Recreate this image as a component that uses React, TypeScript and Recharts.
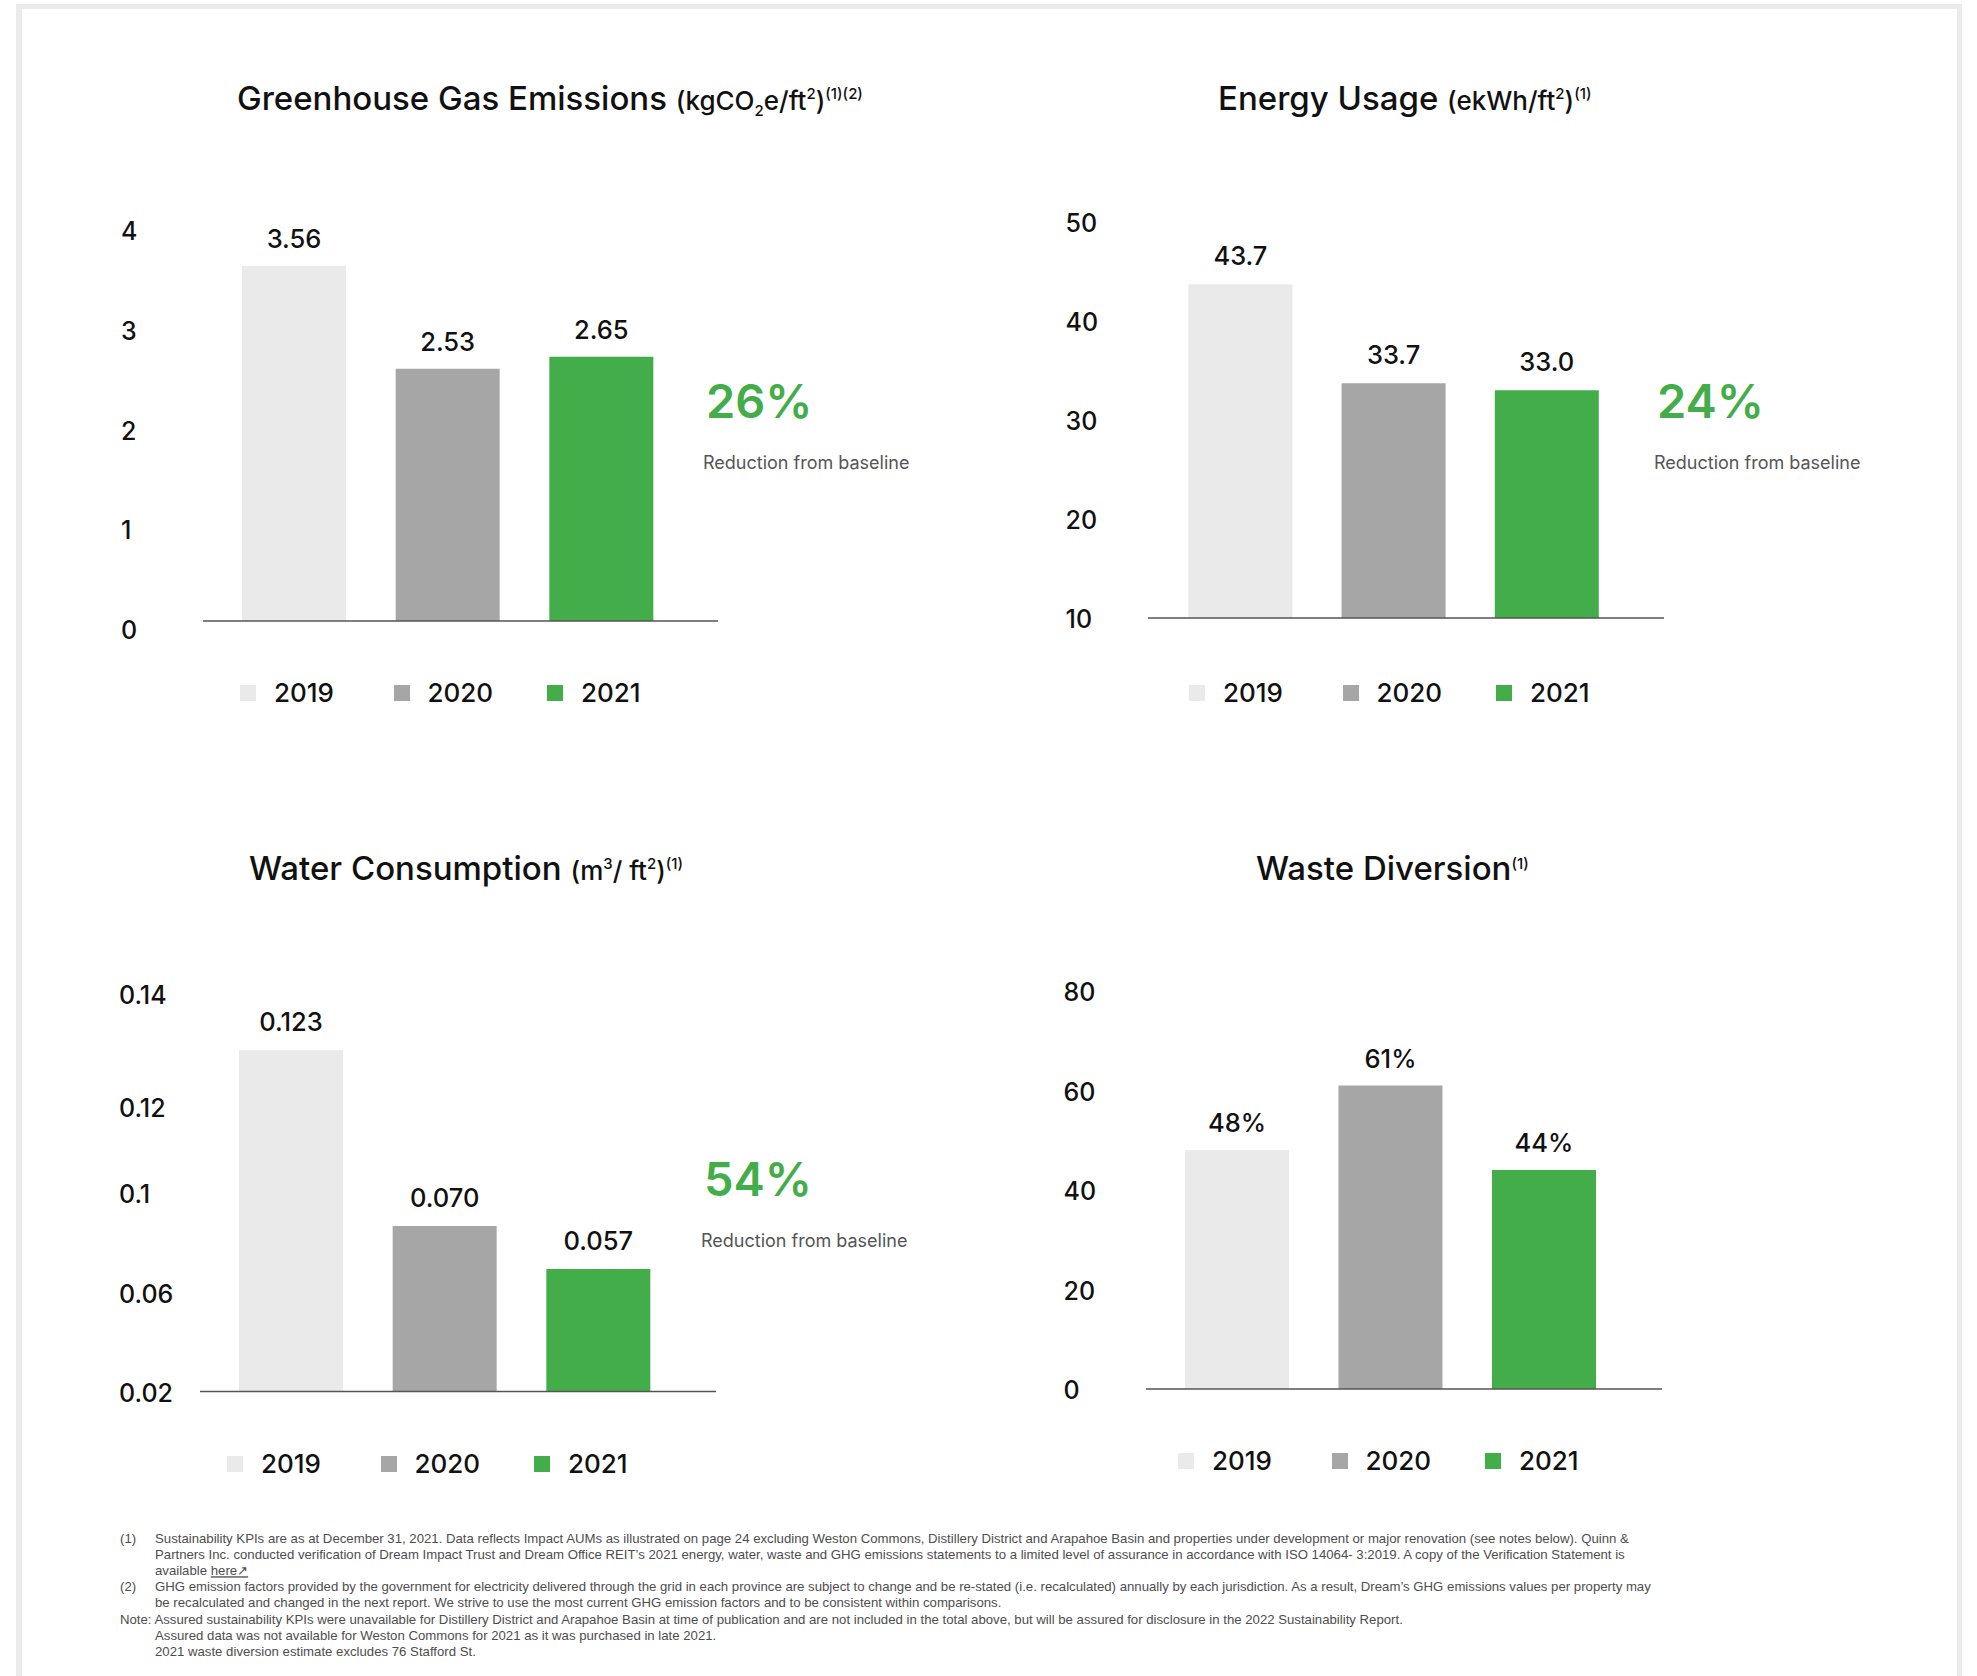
import React from 'react';
import { BarChart, Bar, XAxis, YAxis, Cell, LabelList, Legend } from 'recharts';

const FONT = 'Inter, Lato, "Open Sans", sans-serif';
const NOTE_FONT = '"Liberation Sans", Arial, sans-serif';

const years = ['2019', '2020', '2021'];
const yearColors = ['#eaeaea', '#a6a6a6', '#43ad4a'];

const ghgValues = [3.56, 2.53, 2.65];
const ghgTickValues = [0, 1, 2, 3, 4];
const ghgTickLabels = ['0', '1', '2', '3', '4'];

const energyValues = [43.7, 33.7, 33.0];
const energyTickValues = [10, 20, 30, 40, 50];
const energyTickLabels = ['10', '20', '30', '40', '50'];

const waterValues = [0.123, 0.07, 0.057];
const waterTickValues = [0.02, 0.0497, 0.0799, 0.1059, 0.14];
const waterTickLabels = ['0.02', '0.06', '0.1', '0.12', '0.14'];

const wasteValues = [48, 61, 44];
const wasteTickValues = [0, 20, 40, 60, 80];
const wasteTickLabels = ['0', '20', '40', '60', '80'];

const reductionValues = ['26%', '24%', '54%'];
const reductionText = 'Reduction from baseline';

type Box = { left: number; top: number; width: number; height: number };
type Plot = { left: number; right: number; top: number; bottom: number };

type PanelProps = {
  values: number[];
  domain: [number, number];
  tickValues: number[];
  tickLabels: string[];
  format: (v: number) => string;
  box: Box;
  plot: Plot;
  pad: { left: number; right: number };
  barSize: number;
  tickLeft: number;
  tickDy: number;
  labelOffset: number;
  legend: { x: number; cy: number; spacing: number };
};

function Panel(p: PanelProps) {
  const data = years.map((y, i) => ({ year: y, value: p.values[i] }));
  const yAxisWidth = 60;
  const xAxisHeight = 2;
  const margin = {
    left: p.plot.left - p.box.left - yAxisWidth,
    right: p.box.left + p.box.width - p.plot.right,
    top: p.plot.top - p.box.top,
    bottom: p.box.top + p.box.height - p.plot.bottom - xAxisHeight,
  };
  const tickX = p.tickLeft - p.box.left;
  const renderTick = (t: any) => {
    const idx = p.tickValues.indexOf(t.payload.value);
    return (
      <text
        x={tickX}
        y={t.y + p.tickDy + 9}
        textAnchor="start"
        fontFamily={FONT}
        fontSize={25}
        fontWeight={500}
        fill="#111"
      >
        {p.tickLabels[idx]}
      </text>
    );
  };
  const legendContent = () => (
    <div style={{ display: 'flex', alignItems: 'center', height: 30 }}>
      {years.map((y, i) => (
        <div key={y} style={{ width: p.legend.spacing, display: 'flex', alignItems: 'center' }}>
          <span
            style={{
              width: 16,
              height: 16,
              background: yearColors[i],
              marginRight: 18,
              display: 'inline-block',
            }}
          />
          <span style={{ fontFamily: FONT, fontSize: 26, fontWeight: 500, color: '#111', lineHeight: '30px' }}>{y}</span>
        </div>
      ))}
    </div>
  );
  return (
    <div style={{ position: 'absolute', left: p.box.left, top: p.box.top }}>
      <BarChart width={p.box.width} height={p.box.height} data={data} margin={margin}>
        <XAxis
          dataKey="year"
          type="category"
          height={xAxisHeight}
          padding={p.pad}
          tick={false}
          tickLine={false}
          axisLine={{ stroke: '#555', strokeWidth: 1.5 }}
        />
        <YAxis
          type="number"
          domain={p.domain}
          ticks={p.tickValues}
          interval={0}
          width={yAxisWidth}
          axisLine={false}
          tickLine={false}
          tick={renderTick}
          allowDataOverflow
        />
        <Legend
          verticalAlign="middle"
          align="center"
          layout="horizontal"
          wrapperStyle={{
            left: p.legend.x - p.box.left,
            top: p.legend.cy - 15 - p.box.top,
            width: 'auto',
            height: 30,
            margin: 0,
            padding: 0,
          }}
          content={legendContent}
        />
        <Bar dataKey="value" barSize={p.barSize} isAnimationActive={false}>
          {data.map((d, i) => (
            <Cell key={d.year} fill={yearColors[i]} />
          ))}
          <LabelList
            dataKey="value"
            position="top"
            offset={p.labelOffset}
            formatter={(v: any) => p.format(Number(v))}
            fill="#111"
            fontFamily={FONT}
            fontSize={25.5}
            fontWeight={500}
          />
        </Bar>
      </BarChart>
    </div>
  );
}

function Reduction({ x, y, pct }: { x: number; y: number; pct: string }) {
  return (
    <g>
      <text x={x + 3} y={y} fontFamily={FONT} fontSize={47} fontWeight={600} fill="#43ad4a">
        {pct}
      </text>
      <text x={x} y={y + 51} fontFamily={FONT} fontSize={18} fontWeight={400} fill="#555">
        {reductionText}
      </text>
    </g>
  );
}

function Overlay() {
  const title = { fontFamily: FONT, fontSize: 33, fontWeight: 500, fill: '#111' } as const;
  const noteStyle = { fontFamily: NOTE_FONT, fontSize: 13.2, fill: '#4d4d4d' } as const;
  const noteY = [1543.2, 1559.3, 1575.3, 1591.4, 1607.4, 1623.5, 1639.5, 1655.5];
  const u = 26;
  const s = 15;
  return (
    <svg
      width={1977}
      height={1676}
      style={{ position: 'absolute', left: 0, top: 0, pointerEvents: 'none' }}
    >
      <rect x={16} y={4} width={1946} height={5} fill="#ebebeb" />
      <rect x={16} y={4} width={6} height={1672} fill="#ebebeb" />
      <rect x={1957} y={4} width={5} height={1672} fill="#ebebeb" />

      <text x={237} y={110} {...title}>
        Greenhouse Gas Emissions{' '}
        <tspan fontSize={u}>(kgCO</tspan>
        <tspan fontSize={s} dy={6}>2</tspan>
        <tspan fontSize={u} dy={-6}>e/ft</tspan>
        <tspan fontSize={s} dy={-11}>2</tspan>
        <tspan fontSize={u} dy={11}>)</tspan>
        <tspan fontSize={s} dy={-11}>(1)(2)</tspan>
      </text>
      <text x={1218} y={110} {...title}>
        Energy Usage{' '}
        <tspan fontSize={u}>(ekWh/ft</tspan>
        <tspan fontSize={s} dy={-11}>2</tspan>
        <tspan fontSize={u} dy={11}>)</tspan>
        <tspan fontSize={s} dy={-11}>(1)</tspan>
      </text>
      <text x={249} y={880} {...title}>
        Water Consumption{' '}
        <tspan fontSize={u}>(m</tspan>
        <tspan fontSize={s} dy={-11}>3</tspan>
        <tspan fontSize={u} dy={11}>/ ft</tspan>
        <tspan fontSize={s} dy={-11}>2</tspan>
        <tspan fontSize={u} dy={11}>)</tspan>
        <tspan fontSize={s} dy={-11}>(1)</tspan>
      </text>
      <text x={1256} y={880} {...title}>
        Waste Diversion
        <tspan fontSize={s} dy={-11}>(1)</tspan>
      </text>

      <Reduction x={703} y={418} pct={reductionValues[0]} />
      <Reduction x={1654} y={418} pct={reductionValues[1]} />
      <Reduction x={701} y={1196} pct={reductionValues[2]} />

      <g {...noteStyle}>
        <text x={120} y={noteY[0]}>(1)</text>
        <text x={155} y={noteY[0]}>
          Sustainability KPIs are as at December 31, 2021. Data reflects Impact AUMs as illustrated on page 24 excluding Weston Commons, Distillery District and Arapahoe Basin and properties under development or major renovation (see notes below). Quinn &amp;
        </text>
        <text x={155} y={noteY[1]}>
          Partners Inc. conducted verification of Dream Impact Trust and Dream Office REIT’s 2021 energy, water, waste and GHG emissions statements to a limited level of assurance in accordance with ISO 14064- 3:2019. A copy of the Verification Statement is
        </text>
        <text x={155} y={noteY[2]}>
          available <tspan style={{ textDecoration: 'underline' }}>here↗</tspan>
        </text>
        <text x={120} y={noteY[3]}>(2)</text>
        <text x={155} y={noteY[3]}>
          GHG emission factors provided by the government for electricity delivered through the grid in each province are subject to change and be re-stated (i.e. recalculated) annually by each jurisdiction. As a result, Dream’s GHG emissions values per property may
        </text>
        <text x={155} y={noteY[4]}>
          be recalculated and changed in the next report. We strive to use the most current GHG emission factors and to be consistent within comparisons.
        </text>
        <text x={120} y={noteY[5]}>
          Note: Assured sustainability KPIs were unavailable for Distillery District and Arapahoe Basin at time of publication and are not included in the total above, but will be assured for disclosure in the 2022 Sustainability Report.
        </text>
        <text x={155} y={noteY[6]}>
          Assured data was not available for Weston Commons for 2021 as it was purchased in late 2021.
        </text>
        <text x={155} y={noteY[7]}>2021 waste diversion estimate excludes 76 Stafford St.</text>
      </g>
    </svg>
  );
}

export default function App() {
  return (
    <div
      style={{
        position: 'absolute',
        left: 0,
        top: 0,
        width: 1977,
        height: 1676,
        background: '#fff',
        overflow: 'hidden',
      }}
    >
      <Panel
        values={ghgValues}
        domain={[0, 4]}
        tickValues={ghgTickValues}
        tickLabels={ghgTickLabels}
        format={(v) => v.toFixed(2)}
        box={{ left: 90, top: 150, width: 720, height: 580 }}
        plot={{ left: 203, right: 718, top: 222, bottom: 621 }}
        pad={{ left: 14, right: 40 }}
        barSize={104}
        tickLeft={121}
        tickDy={9}
        labelOffset={18}
        legend={{ x: 240, cy: 692.5, spacing: 153.5 }}
      />
      <Panel
        values={energyValues}
        domain={[10, 50]}
        tickValues={energyTickValues}
        tickLabels={energyTickLabels}
        format={(v) => v.toFixed(1)}
        box={{ left: 1040, top: 150, width: 720, height: 580 }}
        plot={{ left: 1148, right: 1664, top: 222, bottom: 618 }}
        pad={{ left: 15.4, right: 41 }}
        barSize={104}
        tickLeft={1065.5}
        tickDy={1}
        labelOffset={19}
        legend={{ x: 1189, cy: 692.5, spacing: 153.5 }}
      />
      <Panel
        values={waterValues}
        domain={[0.02, 0.14]}
        tickValues={waterTickValues}
        tickLabels={waterTickLabels}
        format={(v) => v.toFixed(3)}
        box={{ left: 90, top: 930, width: 720, height: 580 }}
        plot={{ left: 200, right: 716, top: 994, bottom: 1391.5 }}
        pad={{ left: 14, right: 41 }}
        barSize={104}
        tickLeft={119}
        tickDy={1}
        labelOffset={19}
        legend={{ x: 227, cy: 1464, spacing: 153.5 }}
      />
      <Panel
        values={wasteValues}
        domain={[0, 80]}
        tickValues={wasteTickValues}
        tickLabels={wasteTickLabels}
        format={(v) => `${Math.round(v)}%`}
        box={{ left: 1040, top: 930, width: 720, height: 580 }}
        plot={{ left: 1146, right: 1662, top: 991, bottom: 1389 }}
        pad={{ left: 14, right: 41.5 }}
        barSize={104}
        tickLeft={1063.5}
        tickDy={1}
        labelOffset={18}
        legend={{ x: 1178, cy: 1461, spacing: 153.5 }}
      />
      <Overlay />
    </div>
  );
}
